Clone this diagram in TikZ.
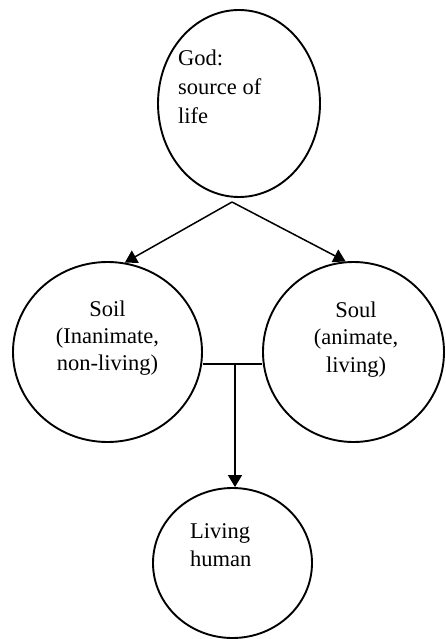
\documentclass[tikz,border=0pt]{standalone}
\usepackage{fontspec}
\setmainfont{Liberation Serif}
\usetikzlibrary{shapes.geometric,arrows.meta,calc}

\tikzset{
  orb/.style={ellipse, draw=black, line width=1.9pt, inner sep=0pt},
  label/.style={inner sep=0pt, font=\fontsize{22.5}{#1}\selectfont},
  label/.default=28,
  link/.style={draw=black, line width=1.5pt},
  arrowlink/.style={link, -{Triangle[length=12pt,width=14pt]}},
}

\begin{document}
\begin{tikzpicture}[x=1pt,y=-1pt]
  \useasboundingbox (0,0) rectangle (445,639);

  % circles
  \node[orb, minimum width=162pt, minimum height=187pt] (god)   at (239,103.5) {};
  \node[orb, minimum width=189pt, minimum height=180pt] (soil)  at (107.5,352) {};
  \node[orb, minimum width=181pt, minimum height=180pt] (soul)  at (353.5,352) {};
  \node[orb, minimum width=159pt, minimum height=150pt] (human) at (232.5,563) {};

  % texts (anchored at the baseline of their last line)
  \node[label=28.8, align=left, anchor=base west] (godtext) at (178,123.3) {God:\\source of\\life};
  \node[label=27, align=center, anchor=base] (soiltext) at (107.5,370.5) {Soil\\(Inanimate,\\non-living)};
  \node[label=27.5, align=center, anchor=base] (soultext) at (356,372) {Soul\\(animate,\\living)};
  \node[label=28.4, align=left, anchor=base west] (humantext) at (190,566.7) {Living\\human};

  % branching point below the top circle and the join between the two middle circles
  \coordinate (apex) at (232,202);
  \coordinate (join) at (235,364);

  \draw[arrowlink] (apex) -- (soil.79);
  \draw[arrowlink] (apex) -- (soul.95);
  \draw[link] (soil.east |- join) -- (soul.west |- join);
  \draw[arrowlink] (join) -- (join |- human.north);
\end{tikzpicture}
\end{document}
